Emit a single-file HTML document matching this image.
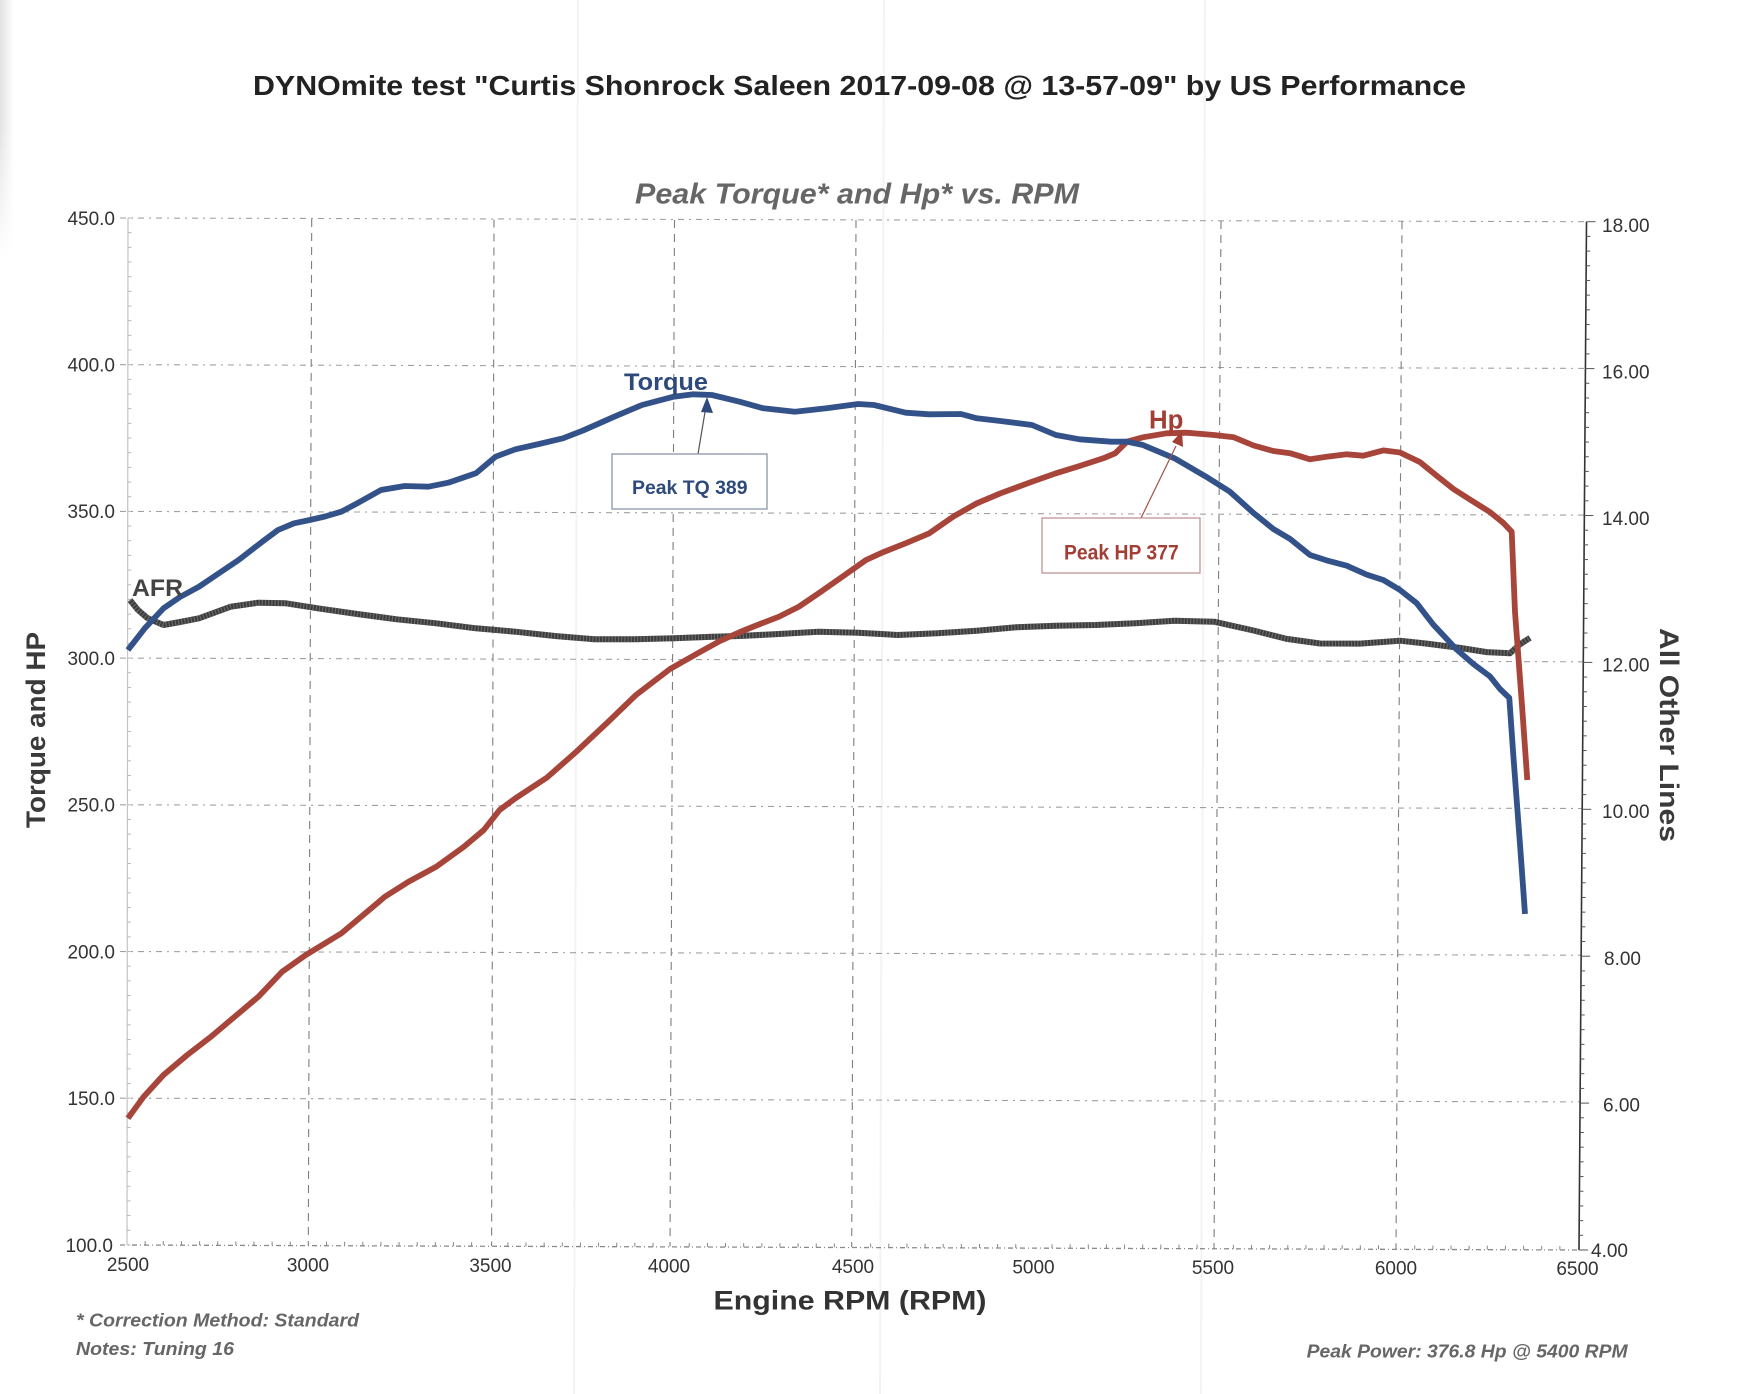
<!DOCTYPE html>
<html><head><meta charset="utf-8">
<style>
html,body{margin:0;padding:0;background:#fff;}
svg{display:block;}
text{font-family:"Liberation Sans",Arial,sans-serif;}
</style></head>
<body>
<svg width="1748" height="1394" viewBox="0 0 1748 1394" xmlns="http://www.w3.org/2000/svg">
<defs>
<linearGradient id="edge" x1="0" y1="0" x2="1" y2="0">
<stop offset="0" stop-color="#e2e2e2"/><stop offset="1" stop-color="#ffffff"/>
</linearGradient>
<linearGradient id="edgev" x1="0" y1="0" x2="0" y2="1">
<stop offset="0" stop-color="#fff" stop-opacity="0"/><stop offset="1" stop-color="#fff" stop-opacity="1"/>
</linearGradient>
</defs>
<rect width="1748" height="1394" fill="#fff"/>
<rect x="0" y="0" width="14" height="260" fill="url(#edge)"/>
<rect x="0" y="120" width="14" height="140" fill="url(#edgev)"/>

<!-- faint scanner streaks -->
<g stroke="#f3f3f3" stroke-width="2">
<line x1="578" y1="0" x2="574" y2="1394"/>
<line x1="884" y1="0" x2="880" y2="1394"/>
<line x1="1205" y1="0" x2="1201" y2="1394"/>
</g>

<!-- title -->
<text x="253" y="95" font-size="27.8" font-weight="bold" fill="#222" textLength="1213" lengthAdjust="spacingAndGlyphs">DYNOmite test "Curtis Shonrock Saleen 2017-09-08 @ 13-57-09" by US Performance</text>
<text x="635" y="203.5" font-size="28.6" font-weight="bold" font-style="italic" fill="#666" textLength="444" lengthAdjust="spacingAndGlyphs">Peak Torque* and Hp* vs. RPM</text>

<!-- horizontal gridlines -->
<g stroke="#a0a0a0" stroke-width="1.1" stroke-dasharray="6 5 2 5" fill="none">
<line x1="120" y1="218" x2="1586" y2="221.7"/>
<line x1="120" y1="364.7" x2="1585" y2="368.4"/>
<line x1="120" y1="511.4" x2="1584" y2="515.1"/>
<line x1="120" y1="658.1" x2="1583" y2="661.8"/>
<line x1="120" y1="804.8" x2="1582" y2="808.5"/>
<line x1="120" y1="951.5" x2="1581" y2="955.2"/>
<line x1="120" y1="1098.2" x2="1580" y2="1101.9"/>
</g>
<!-- bottom axis -->
<line x1="120" y1="1245" x2="1579" y2="1250" stroke="#8a8a8a" stroke-width="1.3" stroke-dasharray="5 3 1 3"/>

<!-- vertical gridlines -->
<g stroke="#7e7e7e" stroke-width="1.1" stroke-dasharray="8 6" fill="none">
<line x1="311.7" y1="219" x2="308.3" y2="1245.5"/>
<line x1="494" y1="219.5" x2="491.6" y2="1246"/>
<line x1="674.5" y1="220" x2="670" y2="1246.5"/>
<line x1="856" y1="220" x2="851.7" y2="1247"/>
<line x1="1221" y1="221" x2="1214" y2="1248.5"/>
<line x1="1402" y1="221.3" x2="1396" y2="1249"/>
</g>

<!-- left axis -->
<line x1="128" y1="218" x2="127" y2="1245" stroke="#c4c4c4" stroke-width="1.2"/>
<g stroke="#b8b8b8" stroke-width="1" id="lticks"></g>
<!-- right axis -->
<line x1="1586.5" y1="221.7" x2="1579" y2="1250" stroke="#333" stroke-width="1.6"/>
<g id="rticks" stroke="#555" stroke-width="1"></g>
<g id="bticks" stroke="#888" stroke-width="1"></g>

<!-- left tick labels -->
<g font-size="19" fill="#333" text-anchor="end">
<text x="115" y="224.8">450.0</text>
<text x="115" y="371.5">400.0</text>
<text x="115" y="518.2">350.0</text>
<text x="115" y="664.9">300.0</text>
<text x="115" y="811.6">250.0</text>
<text x="115" y="958.3">200.0</text>
<text x="115" y="1105">150.0</text>
<text x="113" y="1251.8">100.0</text>
</g>
<!-- right tick labels -->
<g font-size="19" fill="#333">
<text x="1602" y="231.8">18.00</text>
<text x="1602" y="378.4">16.00</text>
<text x="1602" y="525">14.00</text>
<text x="1602" y="671.6">12.00</text>
<text x="1602" y="818.2">10.00</text>
<text x="1604" y="964.8">8.00</text>
<text x="1603" y="1111.4">6.00</text>
<text x="1591" y="1256.8">4.00</text>
</g>
<!-- bottom tick labels -->
<g font-size="19" fill="#333" text-anchor="middle">
<text x="128" y="1270.8">2500</text>
<text x="308" y="1271.3">3000</text>
<text x="490.5" y="1271.8">3500</text>
<text x="669" y="1272.3">4000</text>
<text x="853" y="1272.8">4500</text>
<text x="1033.5" y="1273.3">5000</text>
<text x="1213" y="1273.8">5500</text>
<text x="1396" y="1274.3">6000</text>
<text x="1577.5" y="1274.8">6500</text>
</g>

<!-- axis titles -->
<text x="850" y="1309.3" font-size="26.5" font-weight="bold" fill="#333" text-anchor="middle" textLength="273" lengthAdjust="spacingAndGlyphs">Engine RPM (RPM)</text>
<text transform="translate(45,730) rotate(-90)" font-size="26.5" font-weight="bold" fill="#3a3a3a" text-anchor="middle" textLength="196" lengthAdjust="spacingAndGlyphs">Torque and HP</text>
<text transform="translate(1660,735) rotate(90)" font-size="27" font-weight="bold" fill="#3a3a3a" text-anchor="middle" textLength="214" lengthAdjust="spacingAndGlyphs">All Other Lines</text>

<!-- footers -->
<text x="76" y="1326.7" font-size="18.6" font-weight="bold" font-style="italic" fill="#666" textLength="283" lengthAdjust="spacingAndGlyphs">* Correction Method: Standard</text>
<text x="76" y="1355" font-size="18.6" font-weight="bold" font-style="italic" fill="#666" textLength="158" lengthAdjust="spacingAndGlyphs">Notes: Tuning 16</text>
<text x="1306.6" y="1357.5" font-size="18.6" font-weight="bold" font-style="italic" fill="#666" textLength="321" lengthAdjust="spacingAndGlyphs">Peak Power: 376.8 Hp @ 5400 RPM</text>

<!-- AFR -->
<polyline fill="none" stroke="#3c3c3c" stroke-width="6" stroke-linejoin="round" points="129.9,600 138,610 147.7,618.3 163.5,625 180,622 199,618.3 230.7,606.7 258.4,602.7 286,603.3 317.7,608.3 357.2,614 396.8,619.3 436.3,623.3 475.9,628.3 515.4,631.7 555,636 594.5,639.3 634,639.3 673.6,638.3 713.1,636.7 739.5,636 779,634 818.6,631.7 858.2,632.7 897.7,635 937.2,633.3 976.8,630.7 1016.3,627.3 1055.9,625.7 1095.4,625 1135,623.3 1174.5,620.7 1214,621.7 1253.5,630.5 1286.7,638.9 1320,643.5 1360,643.6 1400,640.7 1426.7,643.6 1460,647.9 1486.7,652.1 1510,653.2 1520,644.3 1530,637.9"/>
<polyline fill="none" stroke="#8e8e8e" stroke-width="6" stroke-opacity="0.55" stroke-dasharray="1.2 2" stroke-linejoin="round" points="129.9,600 138,610 147.7,618.3 163.5,625 180,622 199,618.3 230.7,606.7 258.4,602.7 286,603.3 317.7,608.3 357.2,614 396.8,619.3 436.3,623.3 475.9,628.3 515.4,631.7 555,636 594.5,639.3 634,639.3 673.6,638.3 713.1,636.7 739.5,636 779,634 818.6,631.7 858.2,632.7 897.7,635 937.2,633.3 976.8,630.7 1016.3,627.3 1055.9,625.7 1095.4,625 1135,623.3 1174.5,620.7 1214,621.7 1253.5,630.5 1286.7,638.9 1320,643.5 1360,643.6 1400,640.7 1426.7,643.6 1460,647.9 1486.7,652.1 1510,653.2 1520,644.3 1530,637.9"/>

<!-- HP -->
<polyline fill="none" stroke="#a8453b" stroke-width="5.8" stroke-linejoin="round" points="127.9,1118.3 143.7,1096.7 163.5,1075 187.2,1055 211,1036.7 234.7,1016.7 258.4,996.7 282.1,971.7 305.8,955 341.4,933.3 361.2,916.7 384.9,896.7 408.6,881.7 436.3,866.7 464,846.7 483.8,830 499.6,810 515.4,798.3 547,777.5 576,752 608,722 636,695 670,669 700,652 720,641 740,632 760,624 779,616.7 798.9,606.7 818.6,593.3 842.3,576.7 866,560 881.9,552.7 905.6,543.3 929.3,533.3 953.1,516.7 976.8,503.3 1000.5,493.3 1032.1,481.7 1055.9,473.3 1079.6,466 1103.3,458.3 1115.2,453.3 1127,441.7 1142.9,437.3 1166.6,433.3 1186.4,432.7 1214,435 1233.8,437.3 1253.6,445.5 1273.3,451 1290,453.2 1310,459.3 1326.7,456.8 1346.7,454.3 1363.3,455.7 1383.3,450.4 1400,452.5 1420,462.1 1436.7,475.7 1453.3,488.9 1470,499.6 1490,512.1 1503.3,522.9 1511.7,531.8 1515,612 1521.7,701.4 1527.3,780"/>

<!-- Torque -->
<polyline fill="none" stroke="#34528a" stroke-width="5.8" stroke-linejoin="round" points="127.9,650 145,628 163.5,608.3 180,597 199,586.7 220,572.5 238.6,560 262.3,541.7 278,530 294,523.3 309.8,520 325,516.5 341.4,511.7 357.2,503.3 381,490 404.7,486 428.4,486.7 448.2,482.7 475.9,473.3 495.6,456.7 515.4,449.3 539,444 562.9,438.3 582.6,430.7 614.3,416.7 642,405 673.6,396.7 693.3,394.3 711.9,395 739.5,401.7 763.3,408.3 794.9,411.7 826.5,408.3 858.2,404 874,405 905.6,412.7 929.3,414.3 961,414 976.8,418.3 1000.5,421 1032,425 1055.9,435 1079.6,439.3 1111.2,441.7 1127,441.7 1142.9,445 1174.5,458.3 1206.1,476.7 1229.9,491.7 1253.5,513 1273.3,529 1290,538.9 1310,555 1326.7,560.4 1346.7,565.7 1366.7,574.6 1383.3,580 1400,590 1416.7,603.2 1433.3,624.6 1456.7,649.6 1473.3,663.9 1490,676.4 1500,689 1509.3,697.9 1513.3,755 1520,844.3 1525,913.9"/>

<!-- series labels -->
<text x="624" y="390" font-size="24" font-weight="bold" fill="#2e4a7c" textLength="84" lengthAdjust="spacingAndGlyphs">Torque</text>
<text x="1149" y="428.3" font-size="25.5" font-weight="bold" fill="#a33e35" textLength="34.4" lengthAdjust="spacingAndGlyphs">Hp</text>
<text x="132" y="596" font-size="24.5" font-weight="bold" fill="#444" textLength="51" lengthAdjust="spacingAndGlyphs">AFR</text>

<!-- Peak TQ annotation -->
<line x1="698" y1="454" x2="705" y2="412" stroke="#555" stroke-width="1.2"/>
<polygon points="707,397 713,413 701,412" fill="#2e4a7c"/>
<rect x="612" y="454" width="155" height="55" fill="#fff" stroke="#8a96a8" stroke-width="1.3"/>
<text x="632" y="494" font-size="19.5" font-weight="bold" fill="#2e4a7c" textLength="115.5" lengthAdjust="spacingAndGlyphs">Peak TQ 389</text>

<!-- Peak HP annotation -->
<line x1="1141" y1="518" x2="1176" y2="446" stroke="#a35048" stroke-width="1.2"/>
<polygon points="1182,431 1183,447 1172,442" fill="#a33e35"/>
<rect x="1042" y="518" width="158" height="55" fill="#fff" stroke="#c09595" stroke-width="1.3"/>
<text x="1064" y="559.3" font-size="21" font-weight="bold" fill="#a33e35" textLength="114.7" lengthAdjust="spacingAndGlyphs">Peak HP 377</text>

<script>
(function(){
var ns="http://www.w3.org/2000/svg";
function ln(g,x1,y1,x2,y2){var l=document.createElementNS(ns,"line");l.setAttribute("x1",x1);l.setAttribute("y1",y1);l.setAttribute("x2",x2);l.setAttribute("y2",y2);g.appendChild(l);}
var lt=document.getElementById("lticks");
for(var v=100;v<=450;v+=5){var y=218+(450-v)*2.934;var x=128-(y-218)/1027;ln(lt,x,y,x+3.5,y);}
var rt=document.getElementById("rticks");
for(var i=0;i<=70;i++){var y=221.7+i*1028.3/70;var x=1586.5-(y-221.7)/1028.3*7.5;var len=(i%10==0)?9:4;ln(rt,x,y,x+len,y);}
var bt=document.getElementById("bticks");
for(var r=2550;r<6500;r+=50){if(r%500==0)continue;var x=127+(r-2500)*0.36275;var y=1245+(x-127)/1451*5;ln(bt,x,y,x,y-4);}
})();
</script>
</svg>
</body>
</html>
